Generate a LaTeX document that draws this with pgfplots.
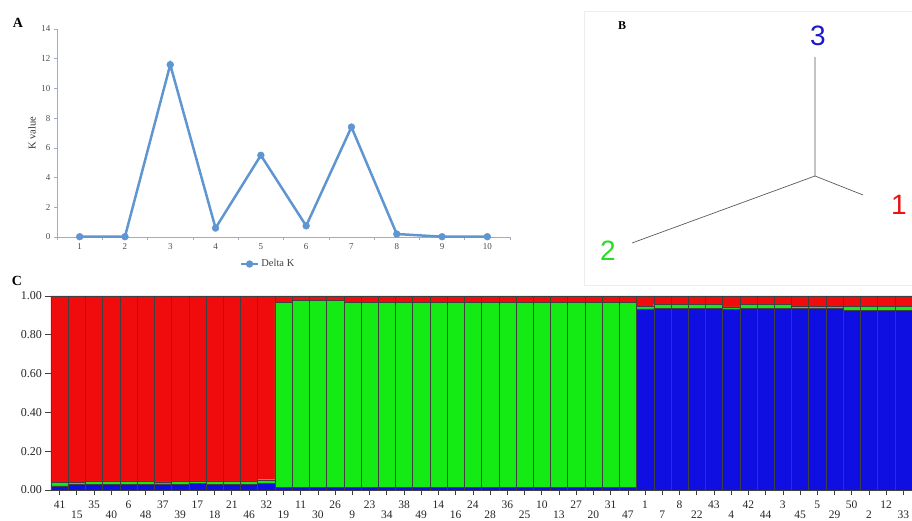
\documentclass[border=0pt]{standalone}
\usepackage{fontspec}
\setmainfont{Liberation Serif}
\newfontfamily\arialf{Liberation Sans}
\usepackage{pgfplots}
\usepackage{pgfplotstable}
\pgfplotsset{compat=1.18}
\definecolor{kblue}{RGB}{95,150,210}
\definecolor{kaxis}{RGB}{150,175,205}
\definecolor{sred}{RGB}{240,12,12}
\definecolor{sgreen}{RGB}{20,235,20}
\definecolor{sblue}{RGB}{15,15,225}
\definecolor{tblue}{RGB}{25,25,200}
\definecolor{tred}{RGB}{230,20,20}
\definecolor{tgreen}{RGB}{40,220,40}

\pgfplotstableread{
x lab B G R
0.5 41 0.022 0.018 0.960
1.5 15 0.028 0.012 0.960
2.5 35 0.030 0.016 0.954
3.5 40 0.030 0.016 0.954
4.5 6 0.030 0.015 0.955
5.5 48 0.030 0.015 0.955
6.5 37 0.032 0.010 0.958
7.5 39 0.030 0.015 0.955
8.5 17 0.033 0.010 0.957
9.5 18 0.030 0.015 0.955
10.5 21 0.030 0.015 0.955
11.5 46 0.030 0.015 0.955
12.5 32 0.035 0.018 0.947
13.5 19 0.012 0.955 0.033
14.5 11 0.012 0.966 0.022
15.5 30 0.012 0.966 0.022
16.5 26 0.012 0.966 0.022
17.5 9 0.012 0.956 0.032
18.5 23 0.012 0.956 0.032
19.5 34 0.012 0.956 0.032
20.5 38 0.012 0.956 0.032
21.5 49 0.012 0.956 0.032
22.5 14 0.012 0.956 0.032
23.5 16 0.012 0.956 0.032
24.5 24 0.012 0.956 0.032
25.5 28 0.012 0.956 0.032
26.5 36 0.012 0.956 0.032
27.5 25 0.012 0.956 0.032
28.5 10 0.012 0.956 0.032
29.5 13 0.012 0.956 0.032
30.5 27 0.012 0.956 0.032
31.5 20 0.012 0.956 0.032
32.5 31 0.012 0.956 0.032
33.5 47 0.012 0.956 0.032
34.5 1 0.934 0.014 0.052
35.5 7 0.938 0.018 0.044
36.5 8 0.938 0.018 0.044
37.5 22 0.938 0.018 0.044
38.5 43 0.938 0.018 0.044
39.5 4 0.934 0.010 0.056
40.5 42 0.938 0.018 0.044
41.5 44 0.938 0.018 0.044
42.5 3 0.938 0.018 0.044
43.5 45 0.936 0.009 0.055
44.5 5 0.936 0.009 0.055
45.5 29 0.936 0.009 0.055
46.5 50 0.926 0.020 0.054
47.5 2 0.926 0.020 0.054
48.5 12 0.926 0.020 0.054
49.5 33 0.926 0.020 0.054
}\structdata

\begin{document}
\begin{tikzpicture}
\path[use as bounding box] (0pt,0pt) rectangle (912pt,521pt);

% ---------------- Panel A ----------------
\begin{axis}[at={(57pt,284pt)}, anchor=south west, scale only axis,
  width=453pt, height=208pt,
  xmin=0.5, xmax=10.5, ymin=0, ymax=14,
  axis lines=left, axis line style={-, kaxis, line width=0.9pt},
  xtick={1,...,10}, ytick={0,2,...,14},
  minor xtick={0.5,1.5,...,10.5},
  major x tick style={draw=none},
  tick align=outside, major tick length=3pt, minor tick length=3.5pt,
  tick style={kaxis, line width=0.6pt},
  tick label style={font=\fontsize{9}{10}\selectfont, text=black!70},
  /pgf/number format/assume math mode=true,
  ylabel={K value},
  ylabel style={font=\fontsize{10.5}{12}\selectfont, text=black!80, at={(axis description cs:-0.055,0.5)}, anchor=center},
  legend style={at={(0.466,-0.13)}, anchor=center, draw=none, fill=none,
    font=\fontsize{10.5}{12}\selectfont, text=black!75},
  clip=false]
\addplot[kblue, line width=2.5pt, mark=*, mark size=3.4pt, mark options={fill=kblue, draw=kblue, line width=0.5pt}]
  coordinates {(1,0.02) (2,0.02) (3,11.6) (4,0.6) (5,5.5) (6,0.75) (7,7.4) (8,0.2) (9,0.02) (10,0.02)};
\addlegendentry{Delta K}
\end{axis}

% ---------------- Panel B ----------------
\begin{axis}[at={(580pt,241pt)}, anchor=south west, scale only axis,
  width=332pt, height=280pt, xmin=580, xmax=912, ymin=-280, ymax=0,
  hide axis, clip=false]
\draw[black!7, line width=0.6pt] (axis cs:584,-11) rectangle (axis cs:912,-285);
\addplot[black!65, line width=0.7pt] coordinates {(815,-57) (815,-176) (863,-195)};
\addplot[black!65, line width=0.7pt] coordinates {(815,-176) (632,-243)};
\node[text=tblue, font=\arialf\fontsize{28}{30}\selectfont] at (axis cs:818,-36) {3};
\node[text=tred, font=\arialf\fontsize{28}{30}\selectfont] at (axis cs:899,-205) {1};
\node[text=tgreen, font=\arialf\fontsize{28}{30}\selectfont] at (axis cs:608,-251) {2};
\end{axis}

% ---------------- Panel C ----------------
\begin{axis}[at={(51pt,31pt)}, anchor=south west, scale only axis,
  width=861pt, height=194pt, xmin=0, xmax=50, ymin=0, ymax=1,
  ybar stacked, bar width=1,
  axis lines=left, axis line style={-, black!75, line width=0.8pt},
  ytick={0,0.2,0.4,0.6,0.8,1},
  tick label style={font=\fontsize{11.5}{12}\selectfont, text=black!85},
  yticklabel style={font=\fontsize{12}{13}\selectfont, /pgf/number format/.cd, fixed, fixed zerofill, precision=2},
  xtick={0.5,2.5,...,48.5},
  xticklabels={41,35,6,37,17,21,32,11,26,23,38,14,24,36,10,27,31,1,8,43,42,3,5,50,12},
  xticklabel style={yshift=-4pt, inner sep=1pt},
  extra x ticks={1.5,3.5,...,49.5},
  extra x tick labels={15,40,48,39,18,46,19,30,9,34,49,16,28,25,13,20,47,7,22,4,44,45,29,2,33},
  extra x tick style={xticklabel style={yshift=-10pt}},
  tick align=outside, major tick length=5.5pt,
  tick style={black!75, line width=0.7pt},
  /pgf/number format/assume math mode=true,
  clip=false]
\addplot[fill=sblue, draw=black!75, line width=0.4pt] table[x=x, y=B] {\structdata};
\addplot[fill=sgreen, draw=black!75, line width=0.4pt] table[x=x, y=G] {\structdata};
\addplot[fill=sred, draw=black!75, line width=0.4pt] table[x=x, y=R] {\structdata};
\end{axis}

\node[font=\bfseries\fontsize{14}{15}\selectfont] at (18pt,498pt) {A};
\node[font=\bfseries\fontsize{12}{13}\selectfont] at (622pt,495pt) {B};
\node[font=\bfseries\fontsize{14}{15}\selectfont] at (17pt,240pt) {C};
\end{tikzpicture}
\end{document}
